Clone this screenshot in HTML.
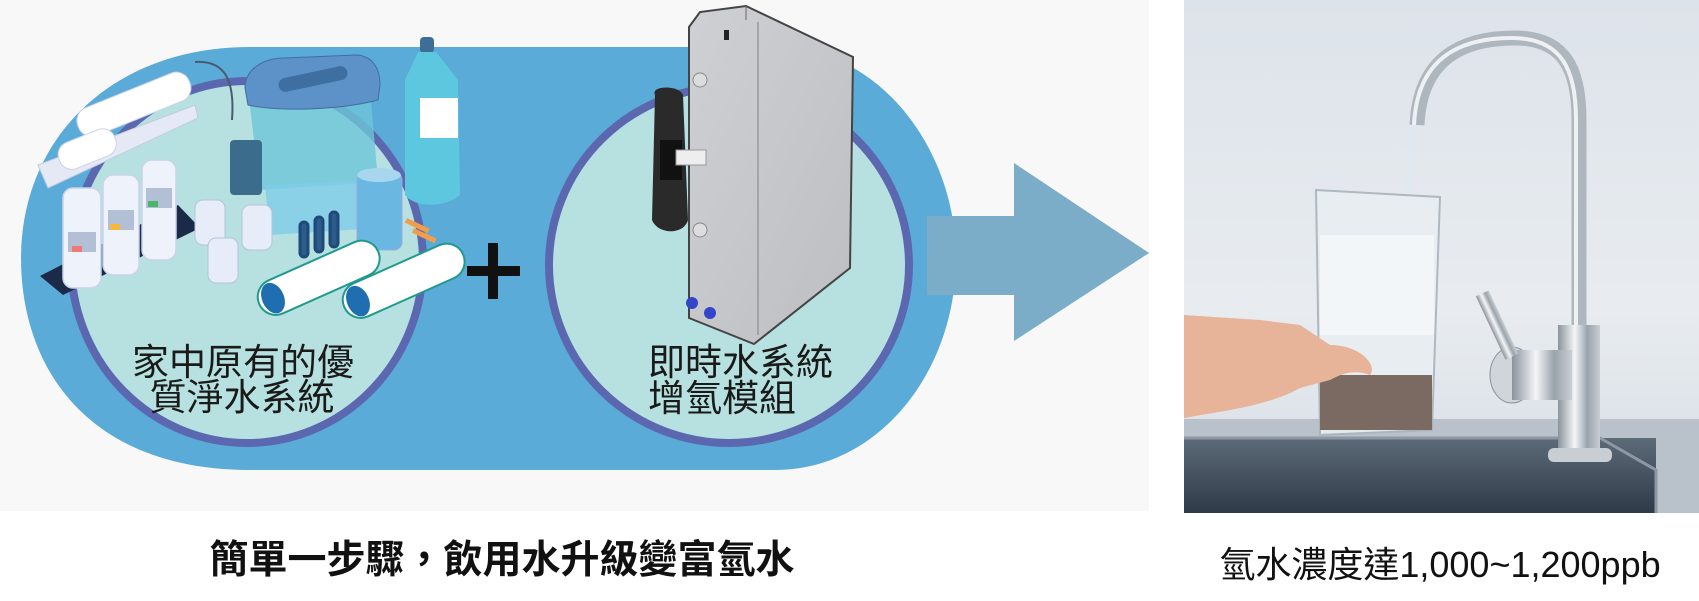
<!DOCTYPE html>
<html><head><meta charset="utf-8"><style>
html,body{margin:0;padding:0;width:1699px;height:601px;background:#fff;overflow:hidden}
svg{display:block}
text{font-family:"Liberation Sans","Noto Sans CJK TC",sans-serif}
</style></head><body>
<svg width="1699" height="601" viewBox="0 0 1699 601" xmlns="http://www.w3.org/2000/svg">
<defs>
<linearGradient id="wall" x1="0" y1="0" x2="0" y2="1"><stop offset="0" stop-color="#dde3ea"/><stop offset="0.6" stop-color="#e8ecf0"/><stop offset="1" stop-color="#d6dde4"/></linearGradient>
<linearGradient id="sink" x1="0" y1="0" x2="0" y2="1"><stop offset="0" stop-color="#5d6a78"/><stop offset="1" stop-color="#2e3a48"/></linearGradient>
<linearGradient id="chrome" x1="0" y1="0" x2="1" y2="0"><stop offset="0" stop-color="#8a939c"/><stop offset="0.4" stop-color="#f4f6f8"/><stop offset="0.7" stop-color="#9aa3ac"/><stop offset="1" stop-color="#c8ced4"/></linearGradient>
<linearGradient id="dev" x1="0" y1="0" x2="1" y2="1"><stop offset="0" stop-color="#cfd0d3"/><stop offset="1" stop-color="#bdbec2"/></linearGradient>
</defs>
<rect x="0" y="0" width="1149" height="511" fill="#f8f8f8"/>
<path d="M250,47 L775,47 C880,47 956,150 956,258 C956,370 880,470 775,470 L250,470 C90,470 21,370 21,258 C21,140 110,47 250,47 Z" fill="#5aabd8"/>
<ellipse cx="247" cy="262" rx="176" ry="181" fill="#b6e1e0" stroke="#5b68b0" stroke-width="8"/>
<ellipse cx="729" cy="265" rx="180" ry="178" fill="#b6e1e0" stroke="#5b68b0" stroke-width="8"/>
<polygon points="40,276 63,295 200,228 178,205" fill="#1b2a48"/>
<g fill="#eef2fb" stroke="#c9d3ea" stroke-width="1.5">
<rect x="63" y="188" width="38" height="100" rx="10"/>
<rect x="103" y="175" width="36" height="100" rx="10"/>
<rect x="142" y="160" width="34" height="100" rx="10"/>
</g>
<rect x="68" y="232" width="28" height="20" fill="#b3bfd4"/><rect x="72" y="246" width="10" height="6" fill="#e77"/>
<rect x="108" y="210" width="26" height="20" fill="#b3bfd4"/><rect x="110" y="224" width="10" height="6" fill="#f4b83c"/>
<rect x="146" y="188" width="26" height="20" fill="#b3bfd4"/><rect x="148" y="201" width="10" height="6" fill="#4bb56a"/>
<polygon points="38,165 195,105 198,118 48,188" fill="#e4e9f5" stroke="#c3cbe0"/>
<g transform="rotate(-22 120 110)"><rect x="75" y="95" width="120" height="30" rx="14" fill="#fff" stroke="#c9d3ea"/><rect x="45" y="120" width="60" height="28" rx="13" fill="#fff" stroke="#c9d3ea"/></g>
<path d="M195,62 C225,60 235,80 232,120" fill="none" stroke="#4a5a70" stroke-width="2"/>
<path d="M248,90 L370,88 L378,182 L260,190 Z" fill="#6dc6d8" opacity="0.8"/>
<path d="M245,88 C245,70 262,58 285,58 L355,55 C372,55 380,68 380,85 L378,100 C340,110 280,112 248,105 Z" fill="#5c92c8" stroke="#3f6ea0"/>
<rect x="278" y="72" width="70" height="14" rx="7" fill="#3f6ea0" transform="rotate(-12 313 79)"/>
<path d="M265,185 L380,180 L378,228 L270,235 Z" fill="#7fcce8" opacity="0.8"/>
<rect x="230" y="140" width="32" height="55" rx="4" fill="#3b6c8c"/>
<g stroke="#1d4a78" stroke-width="3" fill="#2d5c8a"><rect x="300" y="222" width="8" height="35" rx="4"/><rect x="315" y="217" width="8" height="35" rx="4"/><rect x="330" y="212" width="8" height="35" rx="4"/></g>
<rect x="357" y="172" width="45" height="78" rx="8" fill="#6ab7e2" stroke="#9ad" />
<ellipse cx="379" cy="175" rx="22" ry="7" fill="#a8d6ef"/>
<rect x="420" y="37" width="14" height="16" rx="4" fill="#3c6e98"/>
<path d="M418,52 L436,52 L458,80 L460,195 C445,208 415,208 405,195 L405,80 Z" fill="#5ec7e0"/>
<rect x="420" y="98" width="38" height="40" fill="#fff"/>
<g fill="#f29d4a"><rect x="405" y="223" width="25" height="5" transform="rotate(25 417 225)"/><rect x="412" y="233" width="25" height="5" transform="rotate(25 424 235)"/></g>
<g fill="#e6edf8" stroke="#b6c3da"><rect x="195" y="200" width="30" height="45" rx="8"/><rect x="242" y="205" width="30" height="45" rx="8"/><rect x="208" y="238" width="30" height="45" rx="8"/></g>
<g transform="rotate(-24 300 285)"><rect x="255" y="268" width="130" height="36" rx="18" fill="#fff" stroke="#1f9a8c" stroke-width="2"/><ellipse cx="270" cy="286" rx="11" ry="16" fill="#1f6fb0"/></g>
<g transform="rotate(-24 385 288)"><rect x="340" y="271" width="130" height="36" rx="18" fill="#fff" stroke="#1f9a8c" stroke-width="2"/><ellipse cx="355" cy="289" rx="11" ry="16" fill="#1f6fb0"/></g>
<rect x="488" y="243" width="10" height="56" fill="#111"/>
<rect x="467" y="266" width="53" height="10" fill="#111"/>
<!-- device -->
<polygon points="689,27 700,12 746,6 853,57 850,268 754,344 689,318" fill="url(#dev)" stroke="#444" stroke-width="2"/>
<line x1="758" y1="22" x2="758" y2="335" stroke="#9a9a9a" stroke-width="1.5"/>
<line x1="746" y1="6" x2="746" y2="20" stroke="#666" stroke-width="1"/>
<rect x="724" y="30" width="5" height="10" fill="#222"/>
<path d="M655,95 C650,85 680,85 683,95 L688,220 C684,235 658,235 652,220 Z" fill="#2a2a2a"/>
<rect x="660" y="140" width="22" height="40" fill="#111"/>
<rect x="676" y="150" width="30" height="15" fill="#eee" stroke="#999"/>
<circle cx="700" cy="80" r="7" fill="#ddd" stroke="#888"/><circle cx="700" cy="230" r="7" fill="#ddd" stroke="#888"/>
<circle cx="692" cy="303" r="6" fill="#3345c8"/><circle cx="710" cy="313" r="6" fill="#3345c8"/>
<polygon points="927,216 1014,216 1014,163 1149,253 1014,341 1014,295 927,295" fill="#7badc8"/>
<text x="243" y="375" font-size="37" text-anchor="middle" fill="#1a1a1a">家中原有的優</text>
<text x="242" y="410" font-size="37" text-anchor="middle" fill="#1a1a1a">質淨水系統</text>
<text x="648" y="375" font-size="37" fill="#1a1a1a">即時水系統</text>
<text x="648" y="411" font-size="37" fill="#1a1a1a">增氫模組</text>
<!-- photo -->
<rect x="1184" y="0" width="515" height="513" fill="url(#wall)"/>
<rect x="1184" y="419" width="515" height="94" fill="#b9c2cb"/>
<rect x="1184" y="438" width="472" height="75" fill="url(#sink)"/>
<path d="M1184,438 L1600,438 L1656,470 L1656,513" fill="none" stroke="#8d98a4" stroke-width="3"/>
<path d="M1417,125 C1420,60 1460,38 1515,38 C1565,38 1579,70 1579,120 L1579,340" fill="none" stroke="#aeb6be" stroke-width="15"/>
<path d="M1417,125 C1420,60 1460,38 1515,38 C1565,38 1579,70 1579,120 L1579,340" fill="none" stroke="#eef1f4" stroke-width="4" transform="translate(-3,0)"/>
<rect x="1558" y="325" width="42" height="130" fill="url(#chrome)"/>
<rect x="1548" y="448" width="64" height="14" rx="6" fill="#c8ced4"/>
<ellipse cx="1512" cy="375" rx="22" ry="28" fill="#cfd5da" stroke="#8a939c"/>
<rect x="1512" y="350" width="60" height="50" fill="url(#chrome)"/>
<rect x="1490" y="290" width="14" height="70" fill="url(#chrome)" transform="rotate(-25 1497 325)"/>
<path d="M1412,125 L1408,200 L1378,235" stroke="#dfe8f0" stroke-width="6" fill="none" opacity="0.9"/>
<path d="M1316,190 L1440,197 L1432,430 L1320,435 Z" fill="#e9eef2" stroke="#a9b3bc" stroke-width="2" opacity="0.9"/>
<rect x="1320" y="235" width="114" height="100" fill="#f3f6f8"/>
<rect x="1320" y="375" width="112" height="55" fill="#7a6a62"/>
<path d="M1184,315 L1260,320 L1300,325 L1330,345 C1360,345 1378,365 1370,375 C1355,370 1345,372 1330,380 L1300,388 C1270,405 1230,410 1184,418 Z" fill="#e7b49a"/>
<rect x="1149" y="0" width="35" height="513" fill="#fff"/>
<text x="502" y="573" font-size="39" font-weight="bold" text-anchor="middle" fill="#111">簡單一步驟，飲用水升級變富氫水</text>
<text x="1440" y="577" font-size="36" text-anchor="middle" fill="#111">氫水濃度達1,000~1,200ppb</text>
</svg>
</body></html>
